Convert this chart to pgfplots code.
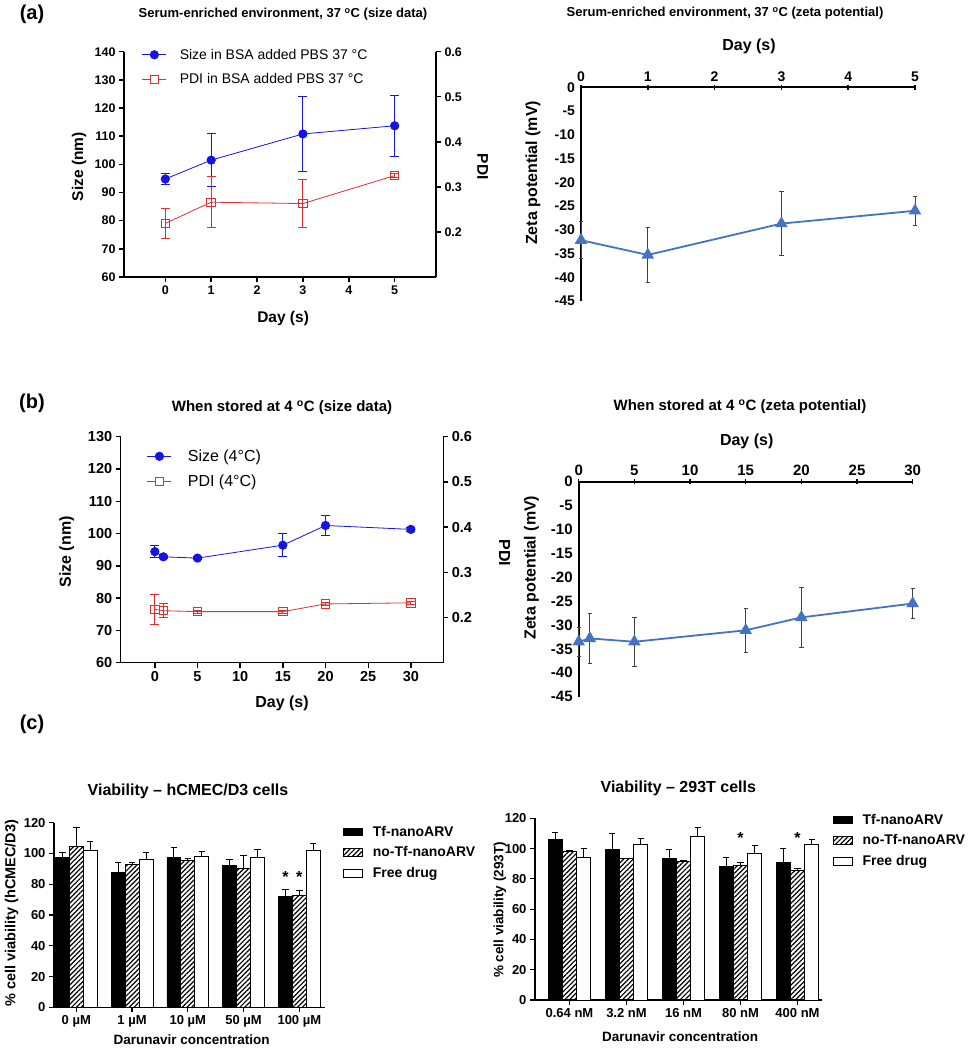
\documentclass[border=0pt]{standalone}
\usepackage{fontspec}
\setmainfont{Liberation Sans}
\usepackage{pgfplots}
\pgfplotsset{compat=1.18}
\usetikzlibrary{patterns.meta}

\definecolor{sizeblue}{RGB}{20,20,230}
\definecolor{pdired}{RGB}{225,45,45}
\definecolor{zetablue}{RGB}{68,114,196}
\definecolor{errgray}{RGB}{64,64,64}
\newcommand{\fs}[1]{\fontsize{#1}{#1}\selectfont}

\pgfplotsset{
  base/.style={scale only axis, anchor=south west, clip=false,
    axis line style={-, line width=1.4pt}, tick style={line width=1.4pt, black},
    major tick length=5pt, tick align=outside,
    /pgf/number format/assume math mode=true},
  noarrows/.style={every outer x axis line/.append style={-}, every outer y axis line/.append style={-},
    every inner x axis line/.append style={-}, every inner y axis line/.append style={-},
    x axis line style={-}, y axis line style={-}},
  linelegend/.style={legend image code/.code={\draw[mark repeat=2, mark phase=2, ##1] plot coordinates {(0pt,0pt) (12pt,0pt) (24pt,0pt)};}},
  pdilegend/.style={legend image code/.code={\draw[pdired, line width=0.8pt] (0pt,0pt) -- (24pt,0pt);
      \draw[pdired, line width=1pt, fill=white] (7.8pt,-4.2pt) rectangle (16.2pt,4.2pt);}},
  barlegend/.style={legend image code/.code={\draw[##1, line width=0.8pt] (0pt,-3.8pt) rectangle (19pt,3.8pt);}},
  errbar/.style={error bars/.cd, y dir=both, y explicit, error bar style={line width=0.9pt}, error mark options={rotate=90, mark size=4.5pt, line width=0.9pt}},
  zerr/.style={error bars/.cd, y dir=both, y explicit, error bar style={errgray, line width=1pt}, error mark options={rotate=90, errgray, mark size=2.2pt, line width=1pt}},
  berr/.style={error bars/.cd, y dir=plus, y explicit, error bar style={black, line width=0.9pt}, error mark options={rotate=90, black, mark size=3.2pt, line width=0.9pt}},
}

\begin{document}
\begin{tikzpicture}
\useasboundingbox (0,0) rectangle (972pt,-1050pt);

% ---------- panel letters & titles ----------
\node[font=\bfseries\fs{20}] at (32pt,-14pt) {(a)};
\node[font=\bfseries\fs{20}] at (32pt,-403pt) {(b)};
\node[font=\bfseries\fs{20}] at (32pt,-724pt) {(c)};
\node[font=\bfseries\fs{13}] at (283pt,-14pt) {Serum-enriched environment, 37 \textsuperscript{o}C (size data)};
\node[font=\bfseries\fs{13}] at (725pt,-13pt) {Serum-enriched environment, 37 \textsuperscript{o}C (zeta potential)};
\node[font=\bfseries\fs{15}] at (282pt,-408pt) {When stored at 4 \textsuperscript{o}C (size data)};
\node[font=\bfseries\fs{15}] at (740pt,-407pt) {When stored at 4 \textsuperscript{o}C (zeta potential)};
\node[font=\bfseries\fs{16}] at (188pt,-791.7pt) {Viability – hCMEC/D3 cells};
\node[font=\bfseries\fs{16}] at (678.3pt,-788.3pt) {Viability – 293T cells};

% ---------- (a) left: size ----------
\begin{axis}[base, at={(124pt,-277pt)}, width=312pt, height=225.3pt,
  xmin=-0.9, xmax=5.9, ymin=60, ymax=140,
  xtick={0,1,2,3,4,5}, ytick={60,70,80,90,100,110,120,130,140},
  axis x line*=bottom, axis y line*=left, noarrows,
  tick label style={font=\bfseries\fs{12.5}},
  xlabel={Day (s)}, ylabel={Size (nm)}, label style={font=\bfseries\fs{15.5}},
  xlabel style={at={(axis description cs:0.51,-0.182)}, anchor=center},
  ylabel style={at={(axis description cs:-0.144,0.49)}, anchor=center},
  linelegend,
  legend style={at={(0.057,1.022)}, anchor=north west, draw=none, fill=none,
    font=\mdseries\fs{14}, inner sep=0pt, row sep=9pt, cells={anchor=west},
    /tikz/every odd column/.append style={column sep=11pt}}]
\addplot[sizeblue, line width=0.8pt, mark=*, mark size=4.2pt, mark options={solid}, errbar]
  coordinates {(0,94.8) +- (0,1.8) (1,101.5) +- (0,9.5) (3,110.8) +- (0,13.2) (5,113.7) +- (0,10.8)};
\addlegendentry{Size in BSA added PBS 37 °C}
\addlegendimage{pdilegend}
\addlegendentry{PDI in BSA added PBS 37 °C}
\end{axis}
\begin{axis}[base, at={(124pt,-277pt)}, width=312pt, height=225.3pt,
  xmin=-0.9, xmax=5.9, ymin=0.1, ymax=0.6, ytick={0.2,0.3,0.4,0.5,0.6},
  axis y line*=right, axis x line=none, noarrows,
  yticklabel style={font=\bfseries\fs{12.5}, /pgf/number format/.cd, fixed, fixed zerofill, precision=1},
  ylabel={PDI}, ylabel style={font=\bfseries\fs{15.5}, at={(axis description cs:1.15,0.49)}, anchor=center, rotate=180}]
\addplot[pdired, line width=0.8pt, mark=square, mark size=4.2pt, mark options={solid, line width=1pt, fill=white}, errbar]
  coordinates {(0,0.219) +- (0,0.034) (1,0.266) +- (0,0.057) (3,0.263) +- (0,0.053) (5,0.325) +- (0,0.004)};
\end{axis}

% ---------- (a) right: zeta ----------
\begin{axis}[base, at={(581pt,-301pt)}, width=334pt, height=213.7pt,
  xmin=0, xmax=5, ymin=-45, ymax=0,
  axis x line=top, axis y line=left, noarrows,
  xtick={0,1,2,3,4,5}, ytick={-45,-40,-35,-30,-25,-20,-15,-10,-5,0},
  ytick style={draw=none}, axis line style={line width=1.8pt}, xtick style={line width=1.5pt},
  tick label style={font=\bfseries\fs{14}},
  xlabel={Day (s)}, ylabel={Zeta potential (mV)}, label style={font=\bfseries\fs{16}},
  xlabel style={at={(axis description cs:0.503,1.19)}, anchor=center},
  ylabel style={at={(axis description cs:-0.144,0.60)}, anchor=center}]
\addplot[zetablue, line width=1.8pt, mark=triangle*, mark size=5.5pt, mark options={solid}, zerr]
  coordinates {(0,-32.2) +- (0,3.9) (1,-35.3) +- (0,5.8) (3,-28.7) +- (0,6.8) (5,-26.0) +- (0,3.0)};
\end{axis}

% ---------- (b) left: size ----------
\begin{axis}[base, at={(120.7pt,-662.7pt)}, width=322.6pt, height=226pt,
  xmin=-4, xmax=33.8, ymin=60, ymax=130,
  xtick={0,5,10,15,20,25,30}, ytick={60,70,80,90,100,110,120,130},
  axis x line*=bottom, axis y line*=left, noarrows,
  tick label style={font=\bfseries\fs{14.5}},
  xlabel={Day (s)}, ylabel={Size (nm)}, label style={font=\bfseries\fs{16}},
  xlabel style={at={(axis description cs:0.5,-0.178)}, anchor=center},
  ylabel style={at={(axis description cs:-0.167,0.49)}, anchor=center},
  linelegend,
  legend style={at={(0.081,0.952)}, anchor=north west, draw=none, fill=none,
    font=\mdseries\fs{16}, inner sep=0pt, row sep=8pt, cells={anchor=west},
    /tikz/every odd column/.append style={column sep=14pt}}]
\addplot[sizeblue, line width=0.8pt, mark=*, mark size=4.2pt, mark options={solid}, errbar]
  coordinates {(0,94.4) +- (0,1.8) (1,92.8) +- (0,0.5) (5,92.4) +- (0,0.5) (15,96.4) +- (0,3.6) (20,102.5) +- (0,3.2) (30,101.3) +- (0,0.5)};
\addlegendentry{Size (4°C)}
\addlegendimage{pdilegend}
\addlegendentry{PDI (4°C)}
\end{axis}
\begin{axis}[base, at={(120.7pt,-662.7pt)}, width=322.6pt, height=226pt,
  xmin=-4, xmax=33.8, ymin=0.1, ymax=0.6, ytick={0.2,0.3,0.4,0.5,0.6},
  axis y line*=right, axis x line=none, noarrows,
  yticklabel style={font=\bfseries\fs{14.5}, /pgf/number format/.cd, fixed, fixed zerofill, precision=1},
  ylabel={PDI}, ylabel style={font=\bfseries\fs{16}, at={(axis description cs:1.19,0.485)}, anchor=center, rotate=180}]
\addplot[pdired, line width=0.8pt, mark=square, mark size=4.2pt, mark options={solid, line width=1pt, fill=white}, errbar]
  coordinates {(0,0.218) +- (0,0.033) (1,0.215) +- (0,0.015) (5,0.213) +- (0,0.003) (15,0.213) +- (0,0.003) (20,0.230) +- (0,0.003) (30,0.2325) +- (0,0.003)};
\end{axis}

% ---------- (b) right: zeta ----------
\begin{axis}[base, at={(578.7pt,-696.7pt)}, width=334pt, height=215pt,
  xmin=0, xmax=30, ymin=-45, ymax=0,
  axis x line=top, axis y line=left, noarrows,
  xtick={0,5,10,15,20,25,30}, ytick={-45,-40,-35,-30,-25,-20,-15,-10,-5,0},
  ytick style={draw=none}, axis line style={line width=1.8pt}, xtick style={line width=1.5pt},
  tick label style={font=\bfseries\fs{15}},
  xlabel={Day (s)}, ylabel={Zeta potential (mV)}, label style={font=\bfseries\fs{16}},
  xlabel style={at={(axis description cs:0.503,1.186)}, anchor=center},
  ylabel style={at={(axis description cs:-0.141,0.60)}, anchor=center}]
\addplot[zetablue, line width=1.8pt, mark=triangle*, mark size=5.5pt, mark options={solid}, zerr]
  coordinates {(0,-33.5) +- (0,3.0) (1,-32.8) +- (0,5.2) (5,-33.5) +- (0,5.1) (15,-31.1) +- (0,4.6) (20,-28.4) +- (0,6.2) (30,-25.5) +- (0,3.1)};
\end{axis}

% ---------- (c) left: hCMEC/D3 ----------
\begin{axis}[base, at={(54pt,-1007.3pt)}, width=271pt, height=184.6pt,
  xmin=-0.40, xmax=4.46, ymin=0, ymax=120,
  axis x line*=bottom, axis y line*=left, noarrows, axis line style={line width=1.2pt}, tick style={line width=1.2pt},
  xtick={0,1,2,3,4}, xticklabels={0 µM, 1 µM, 10 µM, 50 µM, 100 µM},
  ytick={0,20,40,60,80,100,120},
  tick label style={font=\bfseries\fs{13}},
  xlabel={Darunavir concentration}, ylabel={\% cell viability (hCMEC/D3)},
  xlabel style={font=\bfseries\fs{13.5}, at={(axis description cs:0.508,-0.177)}, anchor=center},
  ylabel style={font=\bfseries\fs{14.5}, at={(axis description cs:-0.156,0.51)}, anchor=center},
  barlegend,
  legend style={at={(1.066,0.994)}, anchor=north west, draw=none, fill=none,
    font=\bfseries\fs{14}, inner sep=0pt, row sep=5pt, cells={anchor=west},
    /tikz/every odd column/.append style={column sep=8pt}}]
\addplot[ybar, bar width=0.25, bar shift=0, fill=black, draw=black, line width=0.8pt, berr]
  coordinates {(-0.25,97.2) +- (0,3.5) (0.75,87.5) +- (0,6.9) (1.75,97.5) +- (0,6.3) (2.75,92.0) +- (0,4.2) (3.75,72.3) +- (0,4.6)};
\addlegendentry{Tf-nanoARV}
\addplot[ybar, bar width=0.25, bar shift=0, draw=black, line width=0.8pt, pattern={Lines[angle=45, distance=3.4pt, line width=1.2pt]}, pattern color=black, berr]
  coordinates {(0,104.4) +- (0,12.3) (1,92.9) +- (0,1.1) (2,95.3) +- (0,1.3) (3,90.4) +- (0,8.4) (4,72.8) +- (0,3.2)};
\addlegendentry{no-Tf-nanoARV}
\addplot[ybar, bar width=0.25, bar shift=0, fill=white, draw=black, line width=0.8pt, berr]
  coordinates {(0.25,102.0) +- (0,5.6) (1.25,96.2) +- (0,4.7) (2.25,97.9) +- (0,3.2) (3.25,97.2) +- (0,5.7) (4.25,101.8) +- (0,4.6)};
\addlegendentry{Free drug}
\addplot[draw=none, mark=none, nodes near coords={*}, every node near coord/.style={font=\bfseries\fs{16}, anchor=center}]
  coordinates {(3.75,84.5) (4,84.5)};
\end{axis}

% ---------- (c) right: 293T ----------
\begin{axis}[base, at={(535pt,-1000pt)}, width=287.3pt, height=181.7pt,
  xmin=-0.605, xmax=4.435, ymin=0, ymax=120,
  axis x line*=bottom, axis y line*=left, noarrows, axis line style={line width=1.2pt}, tick style={line width=1.2pt},
  xtick={0,1,2,3,4}, xticklabels={0.64 nM, 3.2 nM, 16 nM, 80 nM, 400 nM},
  ytick={0,20,40,60,80,100,120},
  tick label style={font=\bfseries\fs{13}},
  xlabel={Darunavir concentration}, ylabel={\% cell viability (293T)},
  xlabel style={font=\bfseries\fs{13.5}, at={(axis description cs:0.505,-0.202)}, anchor=center},
  ylabel style={font=\bfseries\fs{13.5}, at={(axis description cs:-0.122,0.495)}, anchor=center},
  barlegend,
  legend style={at={(1.036,1.035)}, anchor=north west, draw=none, fill=none,
    font=\bfseries\fs{14}, inner sep=0pt, row sep=5pt, cells={anchor=west},
    /tikz/every odd column/.append style={column sep=8pt}}]
\addplot[ybar, bar width=0.25, bar shift=0, fill=black, draw=black, line width=0.8pt, berr]
  coordinates {(-0.25,105.9) +- (0,4.6) (0.75,99.7) +- (0,10.4) (1.75,93.6) +- (0,6.1) (2.75,88.1) +- (0,6.1) (3.75,90.9) +- (0,9.1)};
\addlegendentry{Tf-nanoARV}
\addplot[ybar, bar width=0.25, bar shift=0, draw=black, line width=0.8pt, pattern={Lines[angle=45, distance=3.4pt, line width=1.2pt]}, pattern color=black, berr]
  coordinates {(0,98.0) +- (0,1.1) (1,93.4) +- (0,0.3) (2,91.6) +- (0,0.4) (3,89.2) +- (0,1.5) (4,85.6) +- (0,1.4)};
\addlegendentry{no-Tf-nanoARV}
\addplot[ybar, bar width=0.25, bar shift=0, fill=white, draw=black, line width=0.8pt, berr]
  coordinates {(0.25,94.2) +- (0,5.8) (1.25,102.6) +- (0,4.4) (2.25,107.9) +- (0,6.1) (3.25,97.1) +- (0,4.8) (4.25,103.0) +- (0,3.1)};
\addlegendentry{Free drug}
\addplot[draw=none, mark=none, nodes near coords={*}, every node near coord/.style={font=\bfseries\fs{16}, anchor=center}]
  coordinates {(3,107) (4,107)};
\end{axis}
\end{tikzpicture}
\end{document}
